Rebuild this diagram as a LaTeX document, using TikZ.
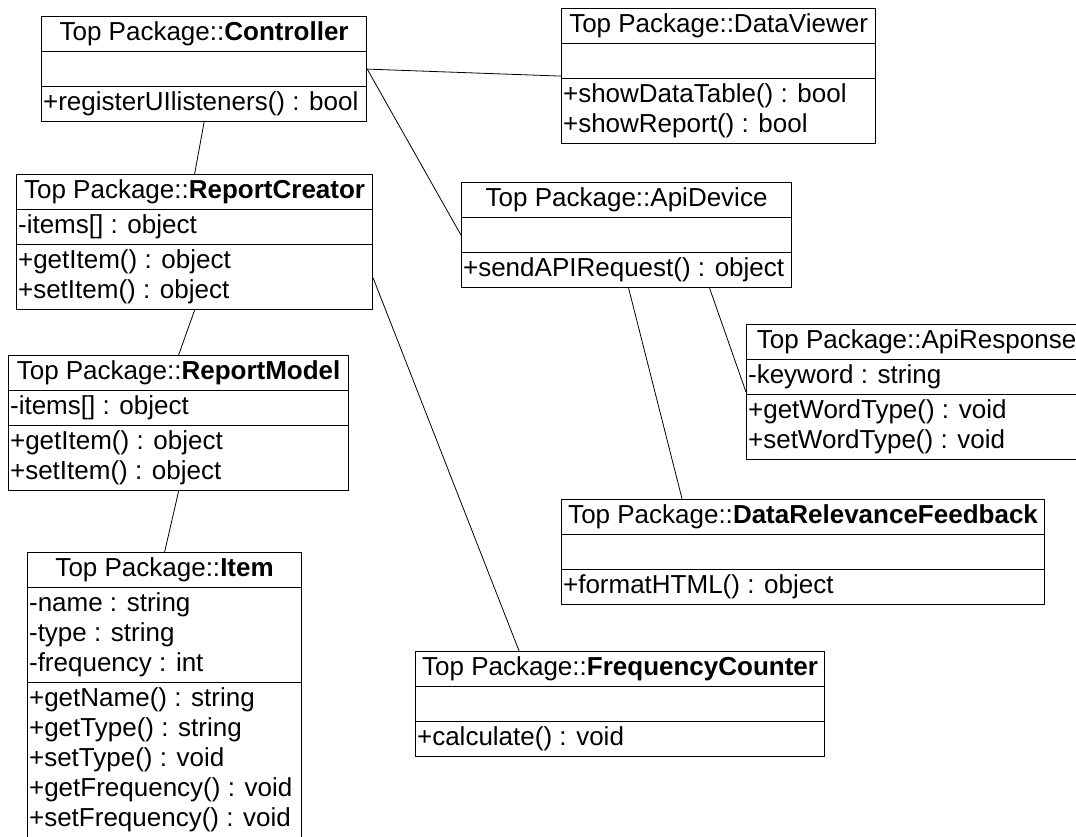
\documentclass[tikz,border=0pt]{standalone}
\usepackage{fontspec}
\setmainfont{Liberation Sans}
\usetikzlibrary{shapes.multipart}

\begin{document}
\begin{tikzpicture}[x=1pt,y=-1pt]
\tikzset{klass/.style={draw,line width=1.2pt,rectangle split,rectangle split parts=3,rectangle split part align={center,left,left},align=left,anchor=north west,inner xsep=1.5pt,inner ysep=1.9pt,font=\fontsize{26}{30}\selectfont}}
\tikzset{assoc/.style={line width=0.8pt}}
\useasboundingbox (0,0) rectangle (1076,836);
\clip (0,0) rectangle (1076,836);
% classes
\node[klass,minimum width=325pt] (ctrl) at (41,16) {\strut Top Package::\textbf{Controller}\nodepart{two}\strut\nodepart{three}\strut+registerUIlisteners() : bool};
\node[klass,minimum width=314pt] (dv) at (561,8) {\strut Top Package::DataViewer\nodepart{two}\strut\nodepart{three}\strut+showDataTable() : bool\\\strut+showReport() : bool};
\node[klass,minimum width=356pt] (rc) at (16,174) {\strut Top Package::\textbf{ReportCreator}\nodepart{two}\strut-items[] : object\nodepart{three}\strut+getItem() : object\\\strut+setItem() : object};
\node[klass,minimum width=330pt] (api) at (461,182) {\strut Top Package::ApiDevice\nodepart{two}\strut\nodepart{three}\strut+sendAPIRequest() : object};
\node[klass,minimum width=340pt] (ar) at (746,324) {\strut Top Package::ApiResponse\nodepart{two}\strut-keyword : string\nodepart{three}\strut+getWordType() : void\\\strut+setWordType() : void};
\node[klass,minimum width=340pt] (rm) at (8,355) {\strut Top Package::\textbf{ReportModel}\nodepart{two}\strut-items[] : object\nodepart{three}\strut+getItem() : object\\\strut+setItem() : object};
\node[klass,minimum width=483pt] (drf) at (561,499) {\strut Top Package::\textbf{DataRelevanceFeedback}\nodepart{two}\strut\nodepart{three}\strut+formatHTML() : object};
\node[klass,minimum width=274pt] (item) at (27,552) {\strut Top Package::\textbf{Item}\nodepart{two}\strut-name : string\\\strut-type : string\\\strut-frequency : int\nodepart{three}\strut+getName() : string\\\strut+getType() : string\\\strut+setType() : void\\\strut+getFrequency() : void\\\strut+setFrequency() : void};
\node[klass,minimum width=409pt] (fc) at (415,651) {\strut Top Package::\textbf{FrequencyCounter}\nodepart{two}\strut\nodepart{three}\strut+calculate() : void};
% associations
\draw[assoc] (ctrl.south) -- (rc.north);
\draw[assoc] (ctrl.east) -- (dv.west);
\draw[assoc] (ctrl.east) -- (api.west);
\draw[assoc] (rc.south) -- (rm.north);
\draw[assoc] (rm.south) -- (item.north);
\draw[assoc] ([yshift=-36pt]rc.east) -- ([xshift=-101pt]fc.north);
\draw[assoc] ([xshift=2pt]api.south) -- ([xshift=-121pt]drf.north);
\draw[assoc] ([xshift=83pt]api.south) -- (ar.west);
\end{tikzpicture}
\end{document}
